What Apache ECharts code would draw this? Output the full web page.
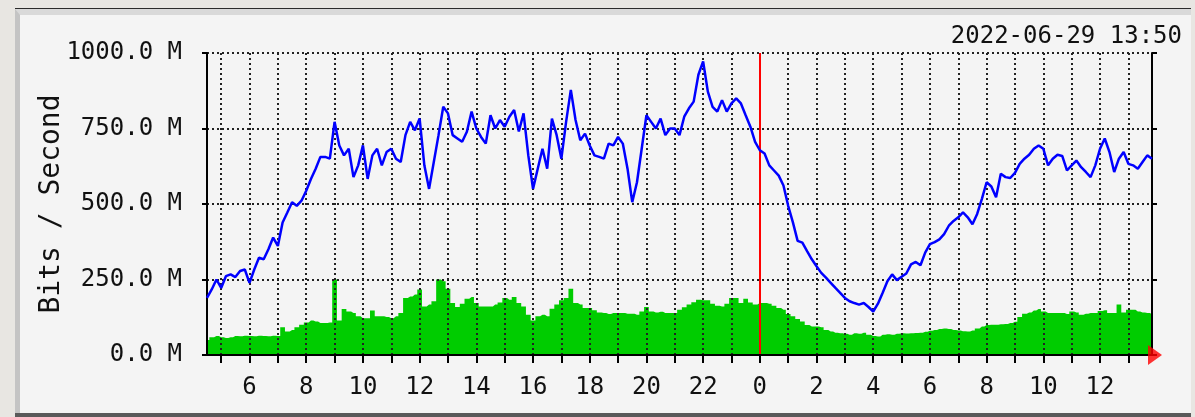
<!DOCTYPE html>
<html>
<head>
<meta charset="utf-8">
<script src="https://cdn.jsdelivr.net/npm/echarts@6/dist/echarts.min.js"></script>
<style>
  html, body { margin: 0; padding: 0; }
  body { width: 1195px; height: 417px; background: #e8e6e2; position: relative; overflow: hidden; }
  #frame { position: absolute; left: 15px; top: 8px; width: 1176px; height: 409px; background: #5a5a5a; border-top: 1px solid #2b2b2b; box-sizing: border-box; }
  #panel { position: absolute; left: 15px; top: 9px; width: 1176px; height: 404px; background: #f4f4f4; border-left: 5px solid #c4c4c4; border-top: 6px solid #d9d9d9; box-sizing: border-box; }
  #chart { position: absolute; left: 0; top: 0; width: 1195px; height: 417px; }
</style>
</head>
<body>
<div id="frame"></div>
<div id="panel"></div>
<div id="chart"></div>
<script>
  // samples every 10 minutes, from 04:30 (28 Jun) to 13:50 (29 Jun), in hours since 28 Jun 00:00
  const startHour = 4.5;
  const stepHour = 1 / 6;
  const endHour = 37 + 50 / 60;
  const midnightHour = 24;
  const stampText = '2022-06-29 13:50';

  // outgoing traffic (blue line), M bits/s
  const outTraffic = [
    189, 217, 250, 222, 261, 267, 258, 278, 283, 239, 283, 322, 317, 350, 389, 361, 439, 472, 506, 494,
    511, 544, 583, 617, 656, 656, 650, 772, 694, 661, 683, 589, 628, 694,
    583, 661, 683, 628, 672, 683, 650, 639, 728, 772, 744, 783, 628, 550, 639, 728, 822, 800, 728, 717,
    706, 739, 806, 750, 722, 700, 794, 750, 778, 756, 789, 811,
    740, 800, 661, 550, 617, 683, 617, 783, 728, 650, 772, 878, 778, 711, 733, 694, 661, 656, 650, 700,
    694, 722, 700, 617, 506, 572, 683, 794, 772, 750, 783, 728, 750, 750,
    728, 789, 817, 839, 928, 972, 872, 822, 806, 844, 806, 833, 850, 833, 794, 756, 706, 678, 667, 628,
    611, 594, 561, 494, 439, 378, 372, 344, 317, 294, 272, 256,
    239, 222, 206, 189, 178, 172, 167, 172, 159, 144, 170, 206, 244, 267, 248, 259, 270, 300, 308, 297,
    339, 367, 374, 383, 400, 428, 444, 456, 472, 456, 433, 467,
    517, 572, 558, 522, 600, 589, 586, 603, 633, 650, 663, 683, 694, 683, 628, 650, 663, 659, 611, 628,
    644, 622, 606, 589, 628, 683, 717, 672, 606, 650, 672, 633, 628, 617, 639, 661, 650
  ];

  // incoming traffic (green area), M bits/s
  const inTraffic = [
    50, 59, 63, 59, 56, 59, 63, 62, 64, 63, 62, 64, 63, 62, 64, 63, 92, 78, 83, 92,
    100, 108, 114, 111, 106, 106, 108, 250, 114, 152, 144, 139, 128, 122,
    122, 147, 128, 128, 126, 122, 128, 139, 189, 194, 200, 217, 161, 167, 178, 250, 244, 219, 172, 159,
    170, 186, 192, 172, 161, 161, 161, 167, 174, 189, 183, 192,
    172, 161, 133, 114, 128, 133, 128, 153, 167, 181, 189, 219, 172, 167, 156, 156, 148, 141, 139, 136,
    139, 139, 139, 137, 137, 133, 144, 159, 144, 141, 143, 139, 139, 139,
    150, 158, 167, 175, 183, 181, 181, 170, 163, 161, 170, 189, 189, 172, 186, 174, 167, 172, 172, 170,
    163, 156, 150, 136, 128, 119, 111, 99, 94, 94, 92, 83,
    78, 74, 72, 70, 67, 72, 70, 74, 67, 63, 61, 67, 69, 67, 70, 72, 71, 72, 73, 74,
    77, 80, 83, 86, 88, 86, 83, 81, 79, 78, 81, 88,
    94, 99, 100, 100, 102, 103, 106, 110, 126, 137, 141, 147, 152, 144, 139, 139, 139, 139, 136, 144,
    141, 133, 137, 139, 139, 146, 148, 139, 139, 167, 141, 150, 150, 144, 141, 139, 136
  ];

  const tickHours = [5, 6, 7, 8, 9, 10, 11, 12, 13, 14, 15, 16, 17, 18, 19, 20, 21, 22, 23, 24,
    25, 26, 27, 28, 29, 30, 31, 32, 33, 34, 35, 36, 37];
  const labelHours = [6, 8, 10, 12, 14, 16, 18, 20, 22, 24, 26, 28, 30, 32, 34, 36];
  const yMax = 1000;
  const yStep = 250;

  const FONT = 'DejaVu Sans Mono';
  const toPoints = vals => vals.map((v, i) => [startHour + i * stepHour, v]);

  const chart = echarts.init(document.getElementById('chart'));
  const gridDots = { color: '#222', width: 2, type: [2, 3] };
  const frameLine = { color: '#000', width: 2 };

  chart.setOption({
    animation: false,
    title: {
      text: stampText,
      right: 8,
      top: 20,
      textStyle: { fontFamily: FONT, fontSize: 24, fontWeight: 'normal', color: '#111' }
    },
    grid: { left: 207, top: 53, width: 945, height: 302 },
    xAxis: [{
      type: 'value',
      min: startHour,
      max: endHour,
      z: 5,
      axisLine: { show: true, onZero: false, lineStyle: frameLine },
      axisTick: { show: true, customValues: tickHours, length: 8, lineStyle: frameLine },
      axisLabel: {
        customValues: labelHours,
        formatter: v => String(v % 24),
        margin: 21,
        fontFamily: FONT,
        fontSize: 24,
        color: '#111'
      },
      splitLine: { show: true, lineStyle: gridDots }
    }, {
      type: 'value',
      position: 'top',
      min: startHour,
      max: endHour,
      z: 5,
      axisLine: { show: true, lineStyle: frameLine },
      axisTick: { show: false },
      axisLabel: { show: false },
      splitLine: { show: false }
    }],
    yAxis: [{
      type: 'value',
      min: 0,
      max: yMax,
      interval: yStep,
      z: 5,
      name: 'Bits / Second',
      nameLocation: 'middle',
      nameRotate: 90,
      nameGap: 141,
      nameMoveOverlap: false,
      nameTextStyle: { fontFamily: FONT, fontSize: 28, color: '#111' },
      axisLine: { show: true, lineStyle: frameLine },
      axisTick: { show: true, length: 5, lineStyle: frameLine },
      axisLabel: {
        formatter: v => v.toFixed(1) + ' M',
        margin: 25,
        padding: [8, 0, 0, 0],
        fontFamily: FONT,
        fontSize: 24,
        color: '#111'
      },
      splitLine: { show: true, lineStyle: gridDots }
    }, {
      type: 'value',
      position: 'right',
      min: 0,
      max: yMax,
      interval: yStep,
      z: 5,
      axisLine: { show: true, lineStyle: frameLine },
      axisTick: { show: true, length: 5, lineStyle: frameLine },
      axisLabel: { show: false },
      splitLine: { show: false }
    }],
    series: [{
      name: 'In',
      type: 'line',
      step: 'middle',
      z: 2,
      showSymbol: false,
      silent: true,
      data: toPoints(inTraffic),
      lineStyle: { width: 0 },
      itemStyle: { color: '#00cc00' },
      areaStyle: { color: '#00cc00', opacity: 1 }
    }, {
      name: 'Out',
      type: 'line',
      z: 10,
      showSymbol: false,
      silent: true,
      data: toPoints(outTraffic),
      lineStyle: { width: 2.5, color: '#0000ff' },
      itemStyle: { color: '#0000ff' },
      markLine: {
        silent: true,
        symbol: ['none', 'none'],
        label: { show: false },
        lineStyle: { color: '#ff0000', width: 2, type: 'solid' },
        data: [{ xAxis: midnightHour }]
      }
    }, {
      name: 'arrow',
      type: 'scatter',
      z: 20,
      silent: true,
      symbol: 'triangle',
      symbolRotate: -90,
      symbolSize: [20, 14],
      symbolOffset: [3, 0],
      itemStyle: { color: '#ff0000' },
      data: [[endHour, 0]]
    }]
  });
</script>
</body>
</html>
